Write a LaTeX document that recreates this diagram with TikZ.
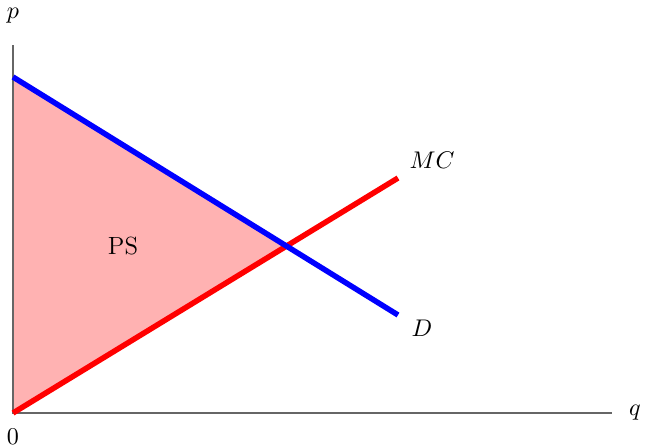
\documentclass[tikz,border=0pt]{standalone}
\begin{document}
\begin{tikzpicture}[x=0.4545pt,y=-0.4545pt,
  axis/.style={draw=black!60, line width=0.5pt},
  curve/.style={line width=2.5pt},
  lbl/.style={inner sep=0pt, font=\fontsize{11.3}{13}\selectfont}]
\useasboundingbox (0,0) rectangle (645,446);
\coordinate (O) at (13,413);
\coordinate (Ytop) at (13,45);
\coordinate (Xend) at (612,413);
\coordinate (D0) at (13,77);
\coordinate (D1) at (398,315);
\coordinate (M1) at (398,178);
\coordinate (E) at (286.6,246);
\fill[red!30] (D0) -- (E) -- (O) -- cycle;
\draw[axis] (Ytop) -- (O) -- (Xend);
\draw[curve, red] (O) -- (M1);
\draw[curve, blue] (D0) -- (D1);
\node[lbl] (p) at (13,16) {$p$};
\node[lbl] (q) at (635,413) {$q$};
\node[lbl] (zero) at (13,437) {$0$};
\node[lbl] (mc) at (432,160) {$MC$};
\node[lbl] (d) at (422,328) {$D$};
\node[lbl] (ps) at (123,246) {PS};
\end{tikzpicture}
\end{document}
